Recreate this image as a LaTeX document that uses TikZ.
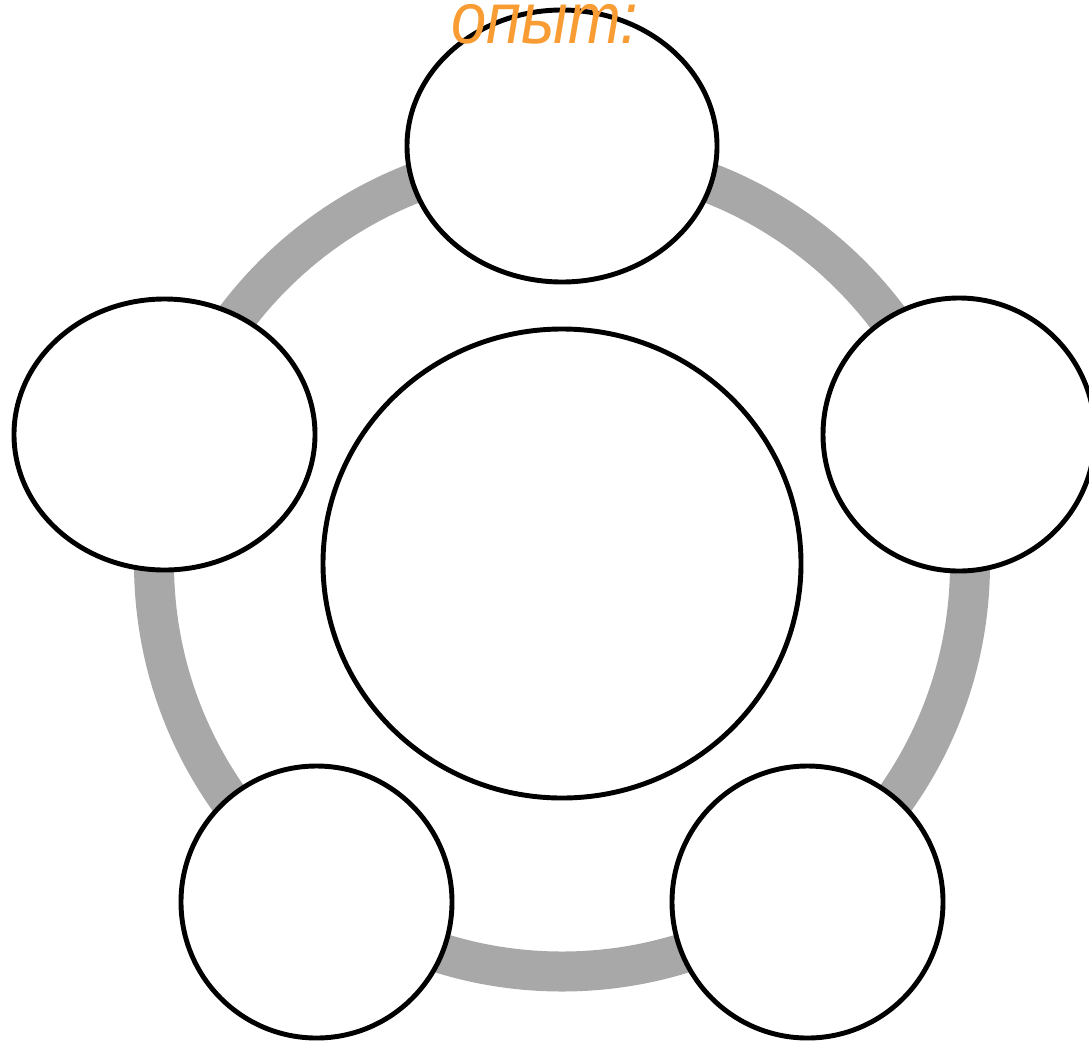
\documentclass[tikz,border=0pt]{standalone}
\usepackage{fontspec}
\newfontfamily\lblfont{Liberation Sans}
\usepackage{tikz}
\usetikzlibrary{shapes.geometric}
\definecolor{ringgrey}{HTML}{A8A8A8}
\definecolor{lblorange}{HTML}{F89C33}

\begin{document}
\begin{tikzpicture}[x=1cm,y=1cm,
  petal/.style={ellipse,draw=black,fill=white,line width=1.4pt,inner sep=0pt},
  ring/.style={draw=ringgrey,line width=0.4cm},
  title/.style={font=\lblfont\itshape\fontsize{18}{22}\selectfont,text=lblorange,anchor=base,inner sep=0pt}]
\useasboundingbox (0,0) rectangle (10.89,10.41);
\node[petal,minimum width=4.78cm,minimum height=4.69cm] (core) at (5.62,4.775) {};
\draw[ring] (core.center) circle (4.08);
\node[petal,minimum width=3.10cm,minimum height=2.72cm] (ptop) at (5.62,8.95) {};
\node[petal,minimum width=3.01cm,minimum height=2.71cm] (pleft) at (1.645,6.065) {};
\node[petal,minimum width=2.72cm,minimum height=2.73cm] (pright) at (9.59,6.065) {};
\node[petal,minimum width=2.71cm,minimum height=2.72cm] (pbotleft) at (3.165,1.39) {};
\node[petal,minimum width=2.71cm,minimum height=2.72cm] (pbotright) at (8.075,1.39) {};
\node[title] (lbl) at (5.45,9.98) {\scalebox{1}[1.15]{опыт:}};
\end{tikzpicture}
\end{document}
